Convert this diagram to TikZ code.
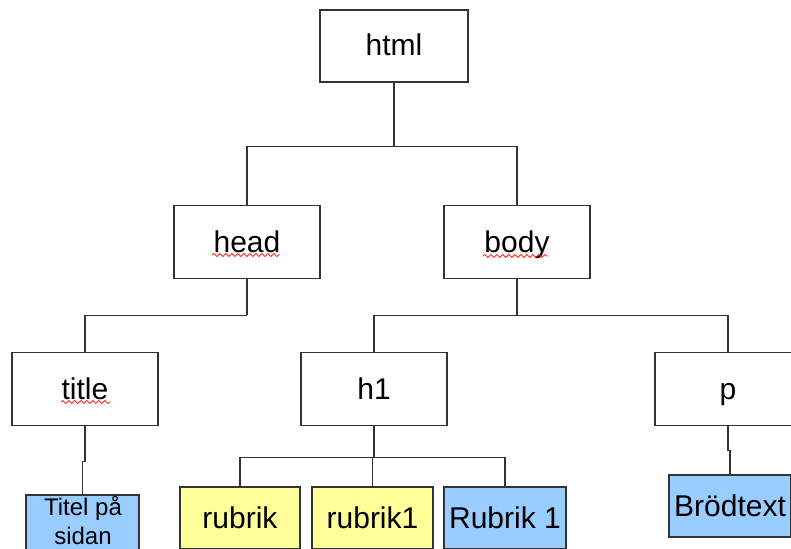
\documentclass[tikz,border=0pt]{standalone}
\usepackage{fontspec}
\setmainfont{Liberation Sans}
\usetikzlibrary{decorations.pathmorphing}
\definecolor{boxblue}{RGB}{153,204,255}
\definecolor{boxyellow}{RGB}{255,255,153}
\definecolor{edgegray}{RGB}{51,51,51}
\tikzset{
  treebox/.style={draw=edgegray, line width=1.2pt, fill=white, inner sep=0pt,
    minimum width=146pt, minimum height=73pt,
    font=\fontsize{30}{36}\selectfont, text height=24pt, text depth=4pt},
  leafbox/.style={treebox, minimum height=62pt},
  conn/.style={draw=edgegray, line width=1.2pt},
  spell/.style={draw=red, line width=0.7pt, decorate,
    decoration={snake, amplitude=1.5pt, segment length=6pt}},
  smalltxt/.style={font=\fontsize{24}{29}\selectfont, inner sep=0pt, anchor=base}
}
\begin{document}
\begin{tikzpicture}[x=1pt, y=-1pt]
\path[use as bounding box, fill=white] (0,0) rectangle (791,548);
\clip (0,0) rectangle (791,548);

% boxes
\node[treebox, minimum width=148pt, minimum height=72pt] (html) at (394,46) {html};
\node[treebox] (head) at (247,242) {head};
\node[treebox] (body) at (517,242) {body};
\node[treebox] (title) at (85,389) {title};
\node[treebox] (h1) at (374,389) {h1};
\node[treebox] (p) at (728,389) {p};

\node[leafbox, fill=boxblue, minimum width=113pt, minimum height=66pt] (titel) at (82.5,528) {};
\node[smalltxt] (titeltxt1) at (83,515) {Titel på};
\node[smalltxt] (titeltxt2) at (83,544) {sidan};
\node[leafbox, fill=boxyellow, minimum width=120pt] (rubrik) at (240,518) {rubrik};
\node[leafbox, fill=boxyellow, minimum width=121pt] (rubrikA) at (372.5,518) {rubrik1};
\node[leafbox, fill=boxblue, minimum width=122pt] (rubrikB) at (505,518) {Rubrik 1};
\node[leafbox, fill=boxblue, minimum width=122pt] (brod) at (730,506) {Brödtext};

% connectors
\draw[conn] (html.south) -- ++(0,64) coordinate (j1);
\draw[conn] (j1) -| (head.north);
\draw[conn] (j1) -| (body.north);

\draw[conn] (head.south) -- ++(0,36) coordinate (j2);
\draw[conn] (j2) -| (title.north);

\draw[conn] (body.south) -- ++(0,36) coordinate (j3);
\draw[conn] (j3) -| (h1.north);
\draw[conn] (j3) -| (p.north);

\draw[conn] (title.south) -- ++(0,35) -| (titel.north);

\draw[conn] (h1.south) -- ++(0,31) coordinate (j4);
\draw[conn] (j4) -| (rubrik.north);
\draw[conn] (j4) -| (rubrikA.north);
\draw[conn] (j4) -| (rubrikB.north);

\draw[conn] (p.south) -- ++(0,24) -| (brod.north);

% spell-check underlines
\draw[spell] (212,255) -- (280,255);
\draw[spell] (483,256) -- (548,256);
\draw[spell] (61,402) -- (110,402);
\end{tikzpicture}
\end{document}
